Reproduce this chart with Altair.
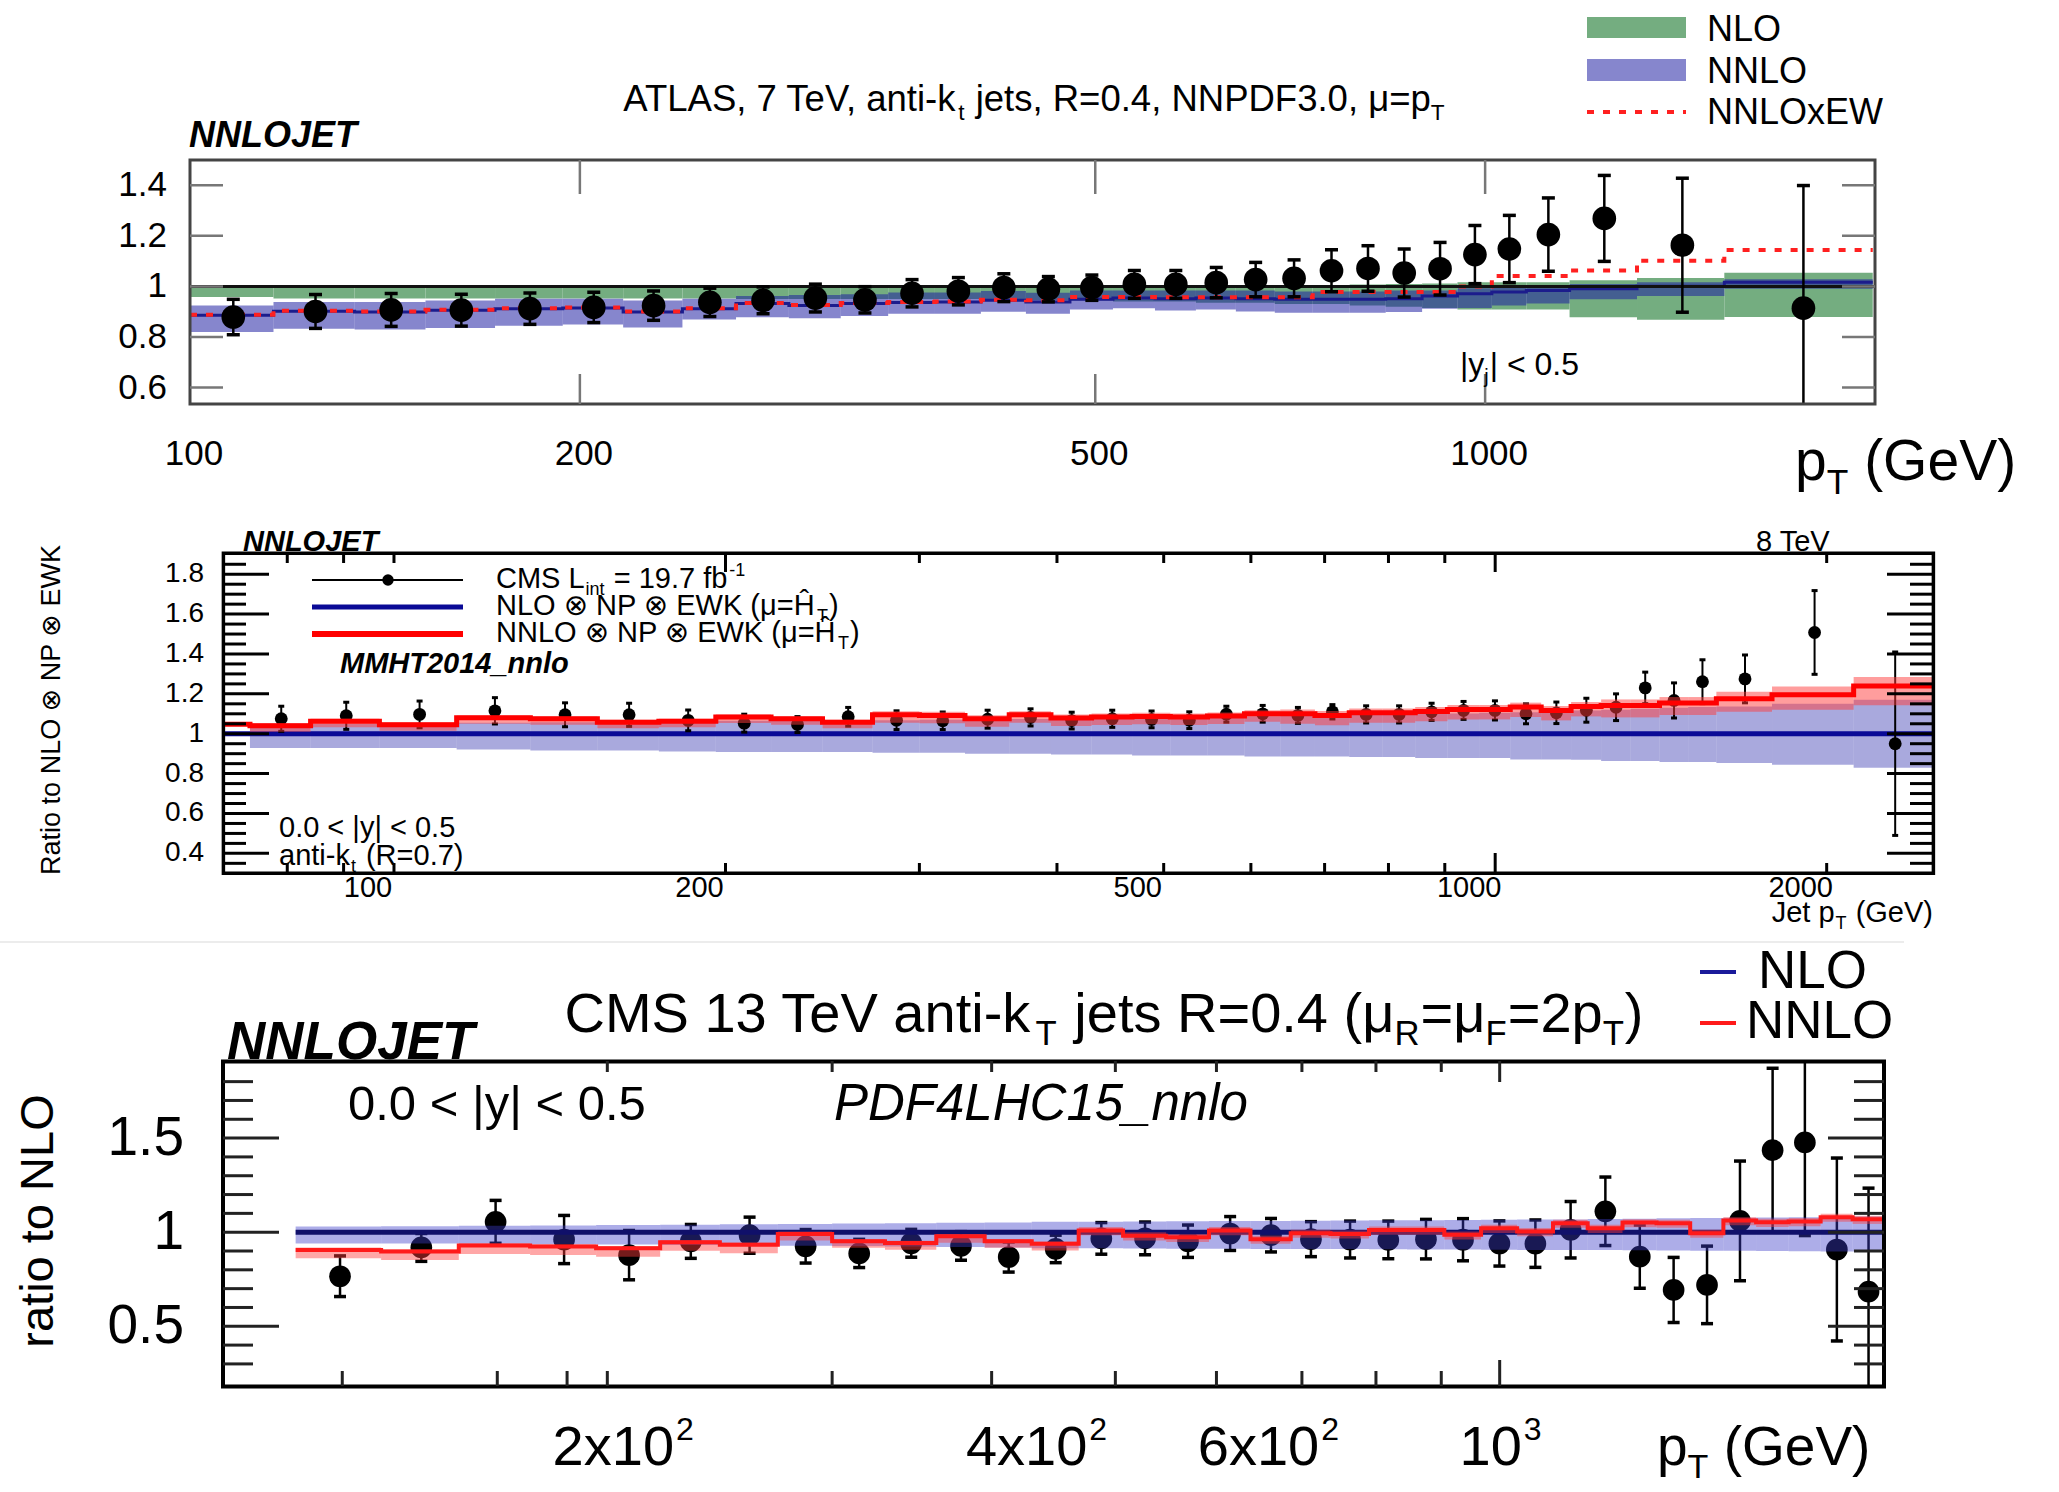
import altair as alt
import pandas as pd

# ======================= DATA =======================
# ---- Panel 1 : ATLAS 7 TeV ----
P1_EDGES = [100, 116, 134, 152, 172, 194, 216, 240, 264, 290, 318, 346, 376, 408, 442, 478, 516, 556,
            598, 642, 688, 736, 786, 838, 894, 952, 1012, 1076, 1162, 1310, 1530, 1992]
P1_PT = [108, 125, 143, 162, 183, 205, 228, 252, 277, 304, 332, 361, 392, 425, 460, 497, 536, 577, 620,
         665, 712, 761, 812, 866, 923, 982, 1044, 1119, 1236, 1420, 1761]
P1_DATA = [0.879, 0.901, 0.907, 0.906, 0.912, 0.917, 0.924, 0.937, 0.945, 0.954, 0.947, 0.973, 0.981,
           0.995, 0.989, 0.995, 1.008, 1.008, 1.015, 1.027, 1.032, 1.062, 1.071, 1.053, 1.070, 1.126,
           1.148, 1.205, 1.269, 1.163, 0.914]
P1_ERR = [0.070, 0.067, 0.065, 0.063, 0.062, 0.060, 0.058, 0.056, 0.053, 0.055, 0.052, 0.054, 0.054,
          0.055, 0.050, 0.050, 0.055, 0.055, 0.060, 0.068, 0.073, 0.083, 0.090, 0.095, 0.104, 0.115,
          0.133, 0.145, 0.170, 0.265, 0.485]
P1_NLO_LO = [0.958, 0.952, 0.952, 0.952, 0.952, 0.952, 0.952, 0.952, 0.950, 0.950, 0.950, 0.950, 0.950,
             0.950, 0.945, 0.945, 0.940, 0.940, 0.935, 0.935, 0.930, 0.930, 0.925, 0.920, 0.915, 0.909,
             0.909, 0.909, 0.878, 0.868, 0.879]
P1_NLO_HI = [1.000, 1.000, 1.000, 1.000, 1.000, 1.000, 1.000, 1.000, 1.000, 1.000, 1.000, 1.000, 1.000,
             1.000, 1.000, 1.000, 1.000, 1.000, 1.000, 1.002, 1.004, 1.006, 1.008, 1.010, 1.012, 1.017,
             1.017, 1.017, 1.024, 1.033, 1.054]
P1_NNLO = [0.886, 0.902, 0.899, 0.906, 0.912, 0.915, 0.899, 0.912, 0.932, 0.925, 0.932, 0.936, 0.938,
           0.945, 0.938, 0.949, 0.954, 0.951, 0.954, 0.951, 0.949, 0.949, 0.949, 0.951, 0.962, 0.971,
           0.978, 0.984, 0.991, 1.001, 1.017]
P1_NNLO_LO = [0.820, 0.833, 0.830, 0.836, 0.844, 0.849, 0.838, 0.869, 0.878, 0.874, 0.883, 0.892, 0.892,
              0.900, 0.892, 0.909, 0.914, 0.905, 0.909, 0.901, 0.896, 0.896, 0.896, 0.899, 0.912, 0.915,
              0.925, 0.932, 0.949, 0.962, 0.991]
P1_NNLO_HI = [0.925, 0.938, 0.938, 0.944, 0.951, 0.951, 0.944, 0.951, 0.962, 0.966, 0.969, 0.976, 0.976,
              0.982, 0.975, 0.984, 0.984, 0.984, 0.984, 0.984, 0.980, 0.980, 0.980, 0.984, 0.984, 0.993,
              0.997, 1.001, 1.010, 1.017, 1.028]
P1_EW = [0.888, 0.904, 0.901, 0.908, 0.914, 0.917, 0.901, 0.914, 0.934, 0.927, 0.934, 0.938, 0.940,
         0.947, 0.945, 0.958, 0.958, 0.957, 0.957, 0.957, 0.957, 0.978, 0.978, 0.978, 0.978, 1.000,
         1.041, 1.041, 1.063, 1.102, 1.144]
P1_YTICKS = [0.6, 0.8, 1.0, 1.2, 1.4]
P1_YLABELS = ["0.6", "0.8", "1", "1.2", "1.4"]
P1_XTICKS = [200, 500, 1000]
P1_XLABEL_VALUES = [100, 200, 500, 1000]
P1_XLABELS = ["100", "200", "500", "1000"]

# ---- Panel 2 : CMS 8 TeV ----
P2_EDGES = [74, 84, 97, 114, 133, 153, 174, 196, 220, 245, 272, 300, 330, 362, 395, 430, 468, 507, 548,
            592, 638, 686, 737, 790, 846, 905, 967, 1032, 1101, 1172, 1248, 1327, 1410, 1497, 1588,
            1784, 2116, 2500]
P2_PT = [79, 90.5, 105.5, 123.5, 143, 163.5, 185, 208, 232.5, 258.5, 286, 315, 346, 378.5, 412.5, 449,
         487.5, 527.5, 570, 615, 662, 711.5, 763.5, 818, 875.5, 936, 999.5, 1066.5, 1136.5, 1210,
         1287.5, 1368.5, 1453.5, 1542.5, 1686, 1950, 2308]
P2_DATA = [1.075, 1.090, 1.097, 1.115, 1.095, 1.095, 1.067, 1.053, 1.046, 1.085, 1.068, 1.065, 1.073,
           1.082, 1.066, 1.075, 1.072, 1.068, 1.098, 1.100, 1.092, 1.110, 1.097, 1.097, 1.110, 1.117,
           1.117, 1.100, 1.105, 1.118, 1.133, 1.230, 1.167, 1.261, 1.275, 1.508, 0.950]
P2_ERR = [0.063, 0.068, 0.067, 0.066, 0.060, 0.058, 0.052, 0.045, 0.040, 0.047, 0.047, 0.044, 0.045,
          0.043, 0.042, 0.043, 0.042, 0.042, 0.040, 0.042, 0.040, 0.036, 0.043, 0.043, 0.043, 0.045,
          0.048, 0.050, 0.054, 0.060, 0.067, 0.079, 0.088, 0.110, 0.120, 0.210, 0.460]
P2_NLO_LO = [0.928, 0.928, 0.928, 0.921, 0.916, 0.916, 0.911, 0.908, 0.908, 0.908, 0.905, 0.905, 0.900,
             0.900, 0.896, 0.896, 0.891, 0.891, 0.891, 0.886, 0.886, 0.886, 0.883, 0.883, 0.878, 0.878,
             0.878, 0.871, 0.871, 0.869, 0.863, 0.863, 0.858, 0.858, 0.853, 0.845, 0.830]
P2_NLO_HI = [1.050, 1.050, 1.050, 1.055, 1.058, 1.058, 1.062, 1.065, 1.065, 1.066, 1.068, 1.070, 1.072,
             1.074, 1.076, 1.078, 1.080, 1.082, 1.085, 1.088, 1.090, 1.092, 1.095, 1.098, 1.100, 1.102,
             1.105, 1.108, 1.112, 1.116, 1.120, 1.125, 1.130, 1.134, 1.137, 1.150, 1.170]
P2_NNLO_FIRST = 1.047   # partial bin below 74 GeV, visible at the left frame
P2_NNLO = [1.040, 1.063, 1.045, 1.080, 1.075, 1.058, 1.063, 1.084, 1.075, 1.058, 1.095, 1.092, 1.075,
           1.095, 1.079, 1.084, 1.087, 1.084, 1.089, 1.100, 1.100, 1.092, 1.105, 1.105, 1.112, 1.122,
           1.122, 1.134, 1.117, 1.137, 1.142, 1.142, 1.154, 1.154, 1.175, 1.195, 1.239]
P2_NNLO_LO = [1.010, 1.033, 1.015, 1.050, 1.045, 1.028, 1.033, 1.054, 1.045, 1.028, 1.055, 1.052, 1.035,
              1.055, 1.039, 1.044, 1.047, 1.044, 1.049, 1.060, 1.050, 1.042, 1.055, 1.055, 1.062, 1.072,
              1.072, 1.084, 1.067, 1.087, 1.082, 1.082, 1.094, 1.094, 1.110, 1.120, 1.143]
P2_NNLO_HI = [1.052, 1.075, 1.057, 1.092, 1.087, 1.070, 1.075, 1.096, 1.087, 1.070, 1.113, 1.110, 1.093,
              1.113, 1.097, 1.102, 1.105, 1.102, 1.107, 1.118, 1.122, 1.114, 1.127, 1.127, 1.134, 1.144,
              1.144, 1.156, 1.139, 1.159, 1.172, 1.172, 1.184, 1.184, 1.210, 1.237, 1.284]
P2_YMAJOR = [0.4, 0.6, 0.8, 1.0, 1.2, 1.4, 1.6, 1.8]
P2_YLABELS = ["0.4", "0.6", "0.8", "1", "1.2", "1.4", "1.6", "1.8"]
P2_YMINOR = [0.35, 0.45, 0.5, 0.55, 0.65, 0.7, 0.75, 0.85, 0.9, 0.95, 1.05, 1.1, 1.15, 1.25, 1.3,
             1.35, 1.45, 1.5, 1.55, 1.65, 1.7, 1.75, 1.85]
P2_XSHORT_TOP = [80, 90, 100, 300, 400, 500, 600, 700, 800, 900, 2000]
P2_XLONG_TOP = [200, 1000]
P2_XSHORT_BOT = [80, 90, 100, 200, 300, 400, 500, 600, 700, 800, 900, 2000]
P2_XLONG_BOT = [1000]
P2_XLABEL_VALUES = [100, 200, 500, 1000, 2000]
P2_XLABELS = ["100", "200", "500", "1000", "2000"]

# ---- Panel 3 : CMS 13 TeV ----
P3_EDGES = [114, 133, 153, 174, 196, 220, 245, 272, 300, 330, 362, 395, 430, 468, 507, 548, 592, 638,
            686, 737, 790, 846, 905, 967, 1032, 1101, 1172, 1248, 1327, 1410, 1497, 1588, 1684, 1784,
            1890, 2000]
P3_PT = [123.5, 143, 163.5, 185, 208, 232.5, 258.5, 286, 315, 346, 378.5, 412.5, 449, 487.5, 527.5, 570,
         615, 662, 711.5, 763.5, 818, 875.5, 936, 999.5, 1066.5, 1136.5, 1210, 1287.5, 1368.5, 1453.5,
         1542.5, 1636, 1734, 1837, 1945]
P3_DATA = [0.766, 0.919, 1.055, 0.961, 0.878, 0.951, 0.984, 0.925, 0.887, 0.941, 0.927, 0.868, 0.911,
           0.967, 0.967, 0.952, 0.993, 0.984, 0.963, 0.961, 0.959, 0.963, 0.960, 0.940, 0.939, 1.013,
           1.111, 0.870, 0.693, 0.720, 1.060, 1.436, 1.477, 0.908, 0.684]
P3_ERR = [0.108, 0.074, 0.114, 0.128, 0.131, 0.090, 0.096, 0.089, 0.075, 0.074, 0.076, 0.080, 0.073,
          0.084, 0.087, 0.086, 0.090, 0.089, 0.093, 0.098, 0.100, 0.105, 0.112, 0.120, 0.126, 0.150,
          0.182, 0.168, 0.173, 0.206, 0.318, 0.435, 0.495, 0.486, 0.550]
P3_NLO_LO = [0.940, 0.940, 0.938, 0.936, 0.934, 0.932, 0.930, 0.928, 0.926, 0.924, 0.921, 0.918, 0.915,
             0.914, 0.913, 0.912, 0.912, 0.911, 0.910, 0.910, 0.909, 0.908, 0.908, 0.907, 0.906, 0.906,
             0.905, 0.904, 0.903, 0.902, 0.901, 0.900, 0.899, 0.898, 0.897]
P3_NLO_HI = [1.030, 1.032, 1.034, 1.036, 1.038, 1.040, 1.042, 1.044, 1.046, 1.048, 1.050, 1.052, 1.055,
             1.056, 1.057, 1.058, 1.059, 1.060, 1.061, 1.062, 1.063, 1.064, 1.065, 1.066, 1.067, 1.068,
             1.070, 1.072, 1.074, 1.075, 1.077, 1.078, 1.080, 1.082, 1.083]
P3_NNLO = [0.906, 0.897, 0.929, 0.924, 0.915, 0.947, 0.933, 0.991, 0.952, 0.942, 0.979, 0.952, 0.938,
           1.009, 0.981, 0.973, 1.009, 0.963, 0.995, 0.991, 1.012, 1.012, 0.986, 1.021, 1.004, 1.048,
           1.021, 1.051, 1.048, 0.995, 1.062, 1.053, 1.057, 1.080, 1.069]
P3_NNLO_LO = [0.861, 0.852, 0.884, 0.879, 0.870, 0.902, 0.888, 0.956, 0.917, 0.907, 0.944, 0.917, 0.903,
              0.984, 0.956, 0.948, 0.984, 0.938, 0.970, 0.966, 0.987, 0.987, 0.961, 0.996, 0.979, 1.023,
              0.996, 1.026, 1.023, 0.970, 1.037, 1.028, 1.032, 1.055, 1.044]
P3_NNLO_HI = [0.918, 0.909, 0.941, 0.936, 0.927, 0.959, 0.945, 1.003, 0.964, 0.954, 0.991, 0.964, 0.950,
              1.027, 0.999, 0.991, 1.027, 0.981, 1.013, 1.009, 1.030, 1.030, 1.004, 1.039, 1.022, 1.066,
              1.039, 1.069, 1.066, 1.013, 1.080, 1.071, 1.075, 1.098, 1.087]
P3_YMAJOR = [0.5, 1.0, 1.5]
P3_YLABELS = ["0.5", "1", "1.5"]
P3_YMINOR = [0.3, 0.4, 0.6, 0.7, 0.8, 0.9, 1.1, 1.2, 1.3, 1.4, 1.6, 1.7, 1.8]
P3_XSHORT_TOP = [200, 300, 400, 500, 600, 700, 800, 900]
P3_XSHORT_BOT = [124, 164, 186, 200, 300, 400, 500, 600, 700, 800, 900]
P3_XLONG = [1000]
P3_XLABEL_VALUES = [200, 400, 600, 1000]
P3_XLABEL_BASE = ["2x10", "4x10", "6x10", "10"]
P3_XLABEL_EXP = ["2", "2", "2", "3"]

# ======================= GEOMETRY / STYLE =======================
FONT = "Liberation Sans, Arial, Helvetica, DejaVu Sans, sans-serif"
G1 = dict(xd=[100, 2000], xr=[190, 1875], yd=[0.535, 1.5], yr=[404, 160])
G2 = dict(xd=[70, 2500], xr=[223.4, 1933.4], yd=[0.3, 1.905], yr=[873.3, 553.3])
G3 = dict(xd=[100, 2000], xr=[223, 1884], yd=[0.18, 1.907], yr=[1386.5, 1061.5])
DUMMY = pd.DataFrame({"d": [0]})

CW = {" ": .278, "!": .278, "(": .333, ")": .333, ",": .278, "-": .333, ".": .278, "/": .278,
      "=": .584, "<": .584, ">": .584, "|": .26, "_": .556, "μ": .576, "Ĥ": .722, "⊗": .838,
      "A": .667, "B": .667, "C": .722, "D": .722, "E": .667, "F": .611, "G": .778, "H": .722, "I": .278,
      "J": .5, "K": .667, "L": .556, "M": .833, "N": .722, "O": .778, "P": .667, "Q": .778, "R": .722,
      "S": .667, "T": .611, "U": .722, "V": .667, "W": .944, "X": .667, "Y": .667, "Z": .611,
      "a": .556, "b": .556, "c": .5, "d": .556, "e": .556, "f": .278, "g": .556, "h": .556, "i": .222,
      "j": .222, "k": .5, "l": .222, "m": .833, "n": .556, "o": .556, "p": .556, "q": .556, "r": .333,
      "s": .5, "t": .278, "u": .556, "v": .5, "w": .722, "x": .5, "y": .5, "z": .5}


def tw(s, size):
    return sum(CW.get(c, .556) for c in s) * size


def scales(g):
    return (alt.Scale(type="log", domain=g["xd"], range=g["xr"], clamp=True, nice=False),
            alt.Scale(type="linear", domain=g["yd"], range=g["yr"], clamp=True, nice=False, zero=False))


def T(s, x, y, size, align="left", baseline="alphabetic", weight="normal", style="normal",
      angle=0, color="black"):
    return alt.Chart(DUMMY).mark_text(align=align, baseline=baseline, fontSize=size, fontWeight=weight,
                                      fontStyle=style, angle=angle, color=color, font=FONT).encode(
        x=alt.value(x), y=alt.value(y), text=alt.value(s))


def rich(pieces, x, y, size, align="left", sub=0.62, **style):
    """pieces: (text, kind[, extra_px]) with kind 'n', 'sub' or 'sup'."""
    def pw(p):
        t, k = p[0], p[1]
        return tw(t, size if k == "n" else size * sub) + (p[2] if len(p) > 2 else 0)
    total = sum(pw(p) for p in pieces)
    if align == "right":
        x = x - total
    elif align == "center":
        x = x - total / 2
    out = []
    for p in pieces:
        t, k = p[0], p[1]
        s = size if k == "n" else size * sub
        yy = y if k == "n" else (y + 0.24 * size if k == "sub" else y - 0.42 * size)
        lead = len(t) - len(t.lstrip(" "))
        xx = x + tw(" " * lead, s)
        if t.strip():
            out.append(T(t.strip(), xx, yy, s, **style))
        x += pw(p)
    return out


def band(edges, lo, hi, g, color, opacity):
    xs, ys = scales(g)
    df = pd.DataFrame({"x0": edges[:-1], "x1": edges[1:], "lo": lo, "hi": hi})
    return alt.Chart(df).mark_rect(color=color, opacity=opacity).encode(
        x=alt.X("x0:Q", scale=xs, axis=None), x2="x1:Q",
        y=alt.Y("lo:Q", scale=ys, axis=None), y2="hi:Q")


def step(edges, vals, g, color, width, dash=None):
    xs, ys = scales(g)
    df = pd.DataFrame({"x": list(edges), "y": list(vals) + [vals[-1]]})
    kw = dict(interpolate="step-after", color=color, strokeWidth=width)
    if dash:
        kw["strokeDash"] = dash
    return alt.Chart(df).mark_line(**kw).encode(
        x=alt.X("x:Q", scale=xs, axis=None), y=alt.Y("y:Q", scale=ys, axis=None))


def hline(x0, x1, v, g, color, width):
    xs, ys = scales(g)
    df = pd.DataFrame({"x0": [x0], "x1": [x1], "v": [v]})
    return alt.Chart(df).mark_rule(color=color, strokeWidth=width).encode(
        x=alt.X("x0:Q", scale=xs, axis=None), x2="x1:Q", y=alt.Y("v:Q", scale=ys, axis=None))


def points(pt, val, err, g, size, capw, lw):
    xs, ys = scales(g)
    df = pd.DataFrame({"x": pt, "v": val,
                       "lo": [a - b for a, b in zip(val, err)], "hi": [a + b for a, b in zip(val, err)]})
    X = alt.X("x:Q", scale=xs, axis=None)
    out = [alt.Chart(df).mark_rule(color="black", strokeWidth=lw).encode(
        x=X, y=alt.Y("lo:Q", scale=ys, axis=None), y2="hi:Q")]
    lo_df = df[df["lo"] >= g["yd"][0]]
    hi_df = df[df["hi"] <= g["yd"][1]]
    out.append(alt.Chart(lo_df).mark_tick(orient="horizontal", size=capw, thickness=lw + 1,
                                          color="black", opacity=1).encode(
        x=X, y=alt.Y("lo:Q", scale=ys, axis=None)))
    out.append(alt.Chart(hi_df).mark_tick(orient="horizontal", size=capw, thickness=lw + 1,
                                          color="black", opacity=1).encode(
        x=X, y=alt.Y("hi:Q", scale=ys, axis=None)))
    out.append(alt.Chart(df).mark_point(filled=True, shape="circle", size=size, color="black",
                                        opacity=1).encode(x=X, y=alt.Y("v:Q", scale=ys, axis=None)))
    return out


def yticks(vals, g, x0, x1, color, width):
    xs, ys = scales(g)
    return alt.Chart(pd.DataFrame({"v": vals})).mark_rule(color=color, strokeWidth=width).encode(
        y=alt.Y("v:Q", scale=ys, axis=None), x=alt.value(x0), x2=alt.value(x1))


def xticks(vals, g, y0, y1, color, width):
    xs, ys = scales(g)
    return alt.Chart(pd.DataFrame({"v": vals})).mark_rule(color=color, strokeWidth=width).encode(
        x=alt.X("v:Q", scale=xs, axis=None), y=alt.value(y0), y2=alt.value(y1))


def ylabels(vals, labs, g, xr, size):
    xs, ys = scales(g)
    return alt.Chart(pd.DataFrame({"v": vals, "t": labs})).mark_text(
        align="right", baseline="middle", fontSize=size, font=FONT, color="black").encode(
        y=alt.Y("v:Q", scale=ys, axis=None), x=alt.value(xr), text="t:N")


def xlabels(vals, labs, g, y, size, dx=0, align="center", baseline="alphabetic"):
    xs, ys = scales(g)
    return alt.Chart(pd.DataFrame({"v": vals, "t": labs})).mark_text(
        align=align, baseline=baseline, fontSize=size, font=FONT, color="black", dx=dx).encode(
        x=alt.X("v:Q", scale=xs, axis=None), y=alt.value(y), text="t:N")


def frame(g, color, width):
    xs, ys = scales(g)
    df = pd.DataFrame({"x0": [g["xd"][0]], "x1": [g["xd"][1]], "y0": [g["yd"][0]], "y1": [g["yd"][1]]})
    return alt.Chart(df).mark_rect(fillOpacity=0, stroke=color, strokeWidth=width).encode(
        x=alt.X("x0:Q", scale=xs, axis=None), x2="x1:Q",
        y=alt.Y("y0:Q", scale=ys, axis=None), y2="y1:Q")


def box(x0, x1, y0, y1, color, opacity=1.0):
    return alt.Chart(DUMMY).mark_rect(color=color, opacity=opacity).encode(
        x=alt.value(x0), x2=alt.value(x1), y=alt.value(y0), y2=alt.value(y1))


def seg(x0, x1, y, color, width, dash=None):
    kw = dict(color=color, strokeWidth=width)
    if dash:
        kw["strokeDash"] = dash
    return alt.Chart(DUMMY).mark_rule(**kw).encode(x=alt.value(x0), x2=alt.value(x1), y=alt.value(y))


L = []

# ======================= PANEL 1 =======================
GREEN, PURPLE1 = "#74ad80", "#1a1aa0"
L.append(band(P1_EDGES, P1_NLO_LO, P1_NLO_HI, G1, GREEN, 1.0))
L.append(band(P1_EDGES, P1_NNLO_LO, P1_NNLO_HI, G1, PURPLE1, 0.53))
L.append(step(P1_EDGES, P1_NNLO, G1, "#1c1c8c", 3))
L.append(step(P1_EDGES, P1_EW, G1, "#ff2020", 4, dash=[7, 9]))
L.append(hline(100, 2000, 1.0, G1, "#111111", 3))
L += points(P1_PT, P1_DATA, P1_ERR, G1, 560, 13, 2.5)
L.append(frame(G1, "#444444", 3))
L.append(yticks(P1_YTICKS, G1, 190, 223, "#777777", 2.5))
L.append(yticks(P1_YTICKS, G1, 1842, 1875, "#777777", 2.5))
L.append(xticks(P1_XTICKS, G1, 160, 194, "#777777", 2.5))
L.append(xticks(P1_XTICKS, G1, 374, 404, "#777777", 2.5))
L.append(ylabels(P1_YTICKS, P1_YLABELS, G1, 167, 35))
L.append(xlabels(P1_XLABEL_VALUES, P1_XLABELS, G1, 465, 35, dx=4))
L += rich([("ATLAS, 7 TeV, anti-k", "n", -8), ("t", "sub", 1), (" jets, R=0.4, NNPDF3.0, μ=p", "n"),
           ("T", "sub")], 1034, 111, 36.5, align="center")
L.append(T("NNLOJET", 189, 147, 36, weight="bold", style="italic"))
L.append(box(1587, 1686, 17, 38, GREEN))
L.append(box(1587, 1686, 59, 81, PURPLE1, 0.53))
L.append(seg(1587, 1686, 112, "#ff2020", 4, dash=[7, 9]))
L.append(T("NLO", 1707, 30, 36, baseline="middle"))
L.append(T("NNLO", 1707, 72, 36, baseline="middle"))
L.append(T("NNLOxEW", 1707, 113, 36, baseline="middle"))
L += rich([("|y", "n"), ("j", "sub", 1), ("| < 0.5", "n")], 1460, 375, 32)
L += rich([("p", "n"), ("T", "sub"), (" (GeV)", "n")], 1795, 480, 57)

# ======================= PANEL 2 =======================
L.append(band(P2_EDGES, P2_NLO_LO, P2_NLO_HI, G2, "#2828aa", 0.4))
L.append(hline(70, 2500, 1.0, G2, "#0a0a96", 5))
L += points(P2_PT, P2_DATA, P2_ERR, G2, 165, 6, 2)
L.append(band(P2_EDGES, P2_NNLO_LO, P2_NNLO_HI, G2, "#ff3c3c", 0.5))
L.append(step([70] + P2_EDGES, [P2_NNLO_FIRST] + P2_NNLO, G2, "#ff0000", 5))
L.append(frame(G2, "black", 3.5))
L.append(yticks(P2_YMAJOR, G2, 223, 269, "black", 3))
L.append(yticks(P2_YMINOR, G2, 223, 246, "black", 3))
L.append(yticks(P2_YMAJOR, G2, 1887, 1933, "black", 3))
L.append(yticks(P2_YMINOR, G2, 1910, 1933, "black", 3))
L.append(xticks(P2_XSHORT_TOP, G2, 553, 563, "black", 3))
L.append(xticks(P2_XLONG_TOP, G2, 553, 572, "black", 3))
L.append(xticks(P2_XSHORT_BOT, G2, 863, 873, "black", 3))
L.append(xticks(P2_XLONG_BOT, G2, 853, 873, "black", 3))
L.append(ylabels(P2_YMAJOR, P2_YLABELS, G2, 204, 28))
L.append(xlabels(P2_XLABEL_VALUES, P2_XLABELS, G2, 897, 29, dx=-26))
L.append(T("NNLOJET", 243, 551, 29, weight="bold", style="italic"))
L.append(T("8 TeV", 1756, 551, 29))
L.append(seg(312, 463, 580, "black", 2))
L.append(alt.Chart(DUMMY).mark_point(filled=True, shape="circle", size=130, color="black", opacity=1)
         .encode(x=alt.value(388), y=alt.value(580)))
L.append(seg(312, 463, 607, "#0a0a96", 5))
L.append(seg(312, 463, 634, "#ff0000", 6))
L += rich([("CMS L", "n", 1), ("int", "sub", 1), (" = 19.7 fb", "n", 2), ("-1", "sup")], 496, 588, 29)
L += rich([("NLO ⊗ NP ⊗ EWK (μ=Ĥ", "n", 2), ("T", "sub", 1), (")", "n")], 496, 615, 29)
L += rich([("NNLO ⊗ NP ⊗ EWK (μ=Ĥ", "n", 2), ("T", "sub", 1), (")", "n")], 496, 642, 29)
L.append(T("MMHT2014_nnlo", 340, 673, 29, weight="bold", style="italic"))
L.append(T("0.0 < |y| < 0.5", 279, 837, 29))
L += rich([("anti-k", "n", 1), ("t", "sub", 2), (" (R=0.7)", "n")], 279, 865, 29)
L += rich([("Jet p", "n", 1), ("T", "sub", 1), (" (GeV)", "n")], 1933, 922, 29, align="right")
L.append(T("Ratio to NLO ⊗ NP ⊗ EWK", 52, 710, 27, align="center", baseline="middle", angle=270))

# separator
L.append(seg(0, 1904, 942, "#ececec", 2))

# ======================= PANEL 3 =======================
L += points(P3_PT, P3_DATA, P3_ERR, G3, 470, 12, 2.5)
L.append(band(P3_EDGES, P3_NLO_LO, P3_NLO_HI, G3, "#3c3cc8", 0.42))
L.append(hline(114, 2000, 1.0, G3, "#10106a", 5))
L.append(band(P3_EDGES, P3_NNLO_LO, P3_NNLO_HI, G3, "#ff3c3c", 0.45))
L.append(step(P3_EDGES, P3_NNLO, G3, "#ff1a1a", 4))
L.append(frame(G3, "black", 4))
L.append(yticks(P3_YMAJOR, G3, 223, 279, "#222222", 3))
L.append(yticks(P3_YMINOR, G3, 223, 253, "#222222", 3))
L.append(yticks(P3_YMAJOR, G3, 1828, 1884, "#222222", 3))
L.append(yticks(P3_YMINOR, G3, 1854, 1884, "#222222", 3))
L.append(xticks(P3_XSHORT_TOP, G3, 1061, 1072, "#222222", 3))
L.append(xticks(P3_XLONG, G3, 1061, 1082, "#222222", 3))
L.append(xticks(P3_XSHORT_BOT, G3, 1371, 1386, "#222222", 3))
L.append(xticks(P3_XLONG, G3, 1360, 1386, "#222222", 3))
L.append(ylabels(P3_YMAJOR, P3_YLABELS, G3, 184, 55))
P3_LABEL_DX = [6, 35, 42, -9]
for v, b, e, dx in zip(P3_XLABEL_VALUES, P3_XLABEL_BASE, P3_XLABEL_EXP, P3_LABEL_DX):
    L.append(xlabels([v], [b], G3, 1465, 56, dx=dx))
    L.append(xlabels([v], [e], G3, 1440, 32, dx=dx + tw(b, 56) / 2 + 2, align="left"))
L += rich([("CMS 13 TeV anti-k", "n", -2), ("T", "sub", 2), (" jets R=0.4 (μ", "n"), ("R", "sub", 1),
           ("=μ", "n"), ("F", "sub", 1), ("=2p", "n"), ("T", "sub", 1), (")", "n")], 1104, 1032, 56,
          align="center")
L.append(T("NNLOJET", 227, 1059, 53, weight="bold", style="italic"))
L.append(seg(1700, 1736, 972, "#1a1a9a", 4))
L.append(seg(1700, 1736, 1023, "#ff1a1a", 4))
L.append(T("NLO", 1758, 972, 53, baseline="middle"))
L.append(T("NNLO", 1746, 1022, 53, baseline="middle"))
L.append(T("0.0 < |y| < 0.5", 348, 1120, 49))
L.append(T("PDF4LHC15_nnlo", 834, 1120, 51, style="italic"))
L.append(T("ratio to NLO", 39, 1221, 47, align="center", baseline="middle", angle=270))
L += rich([("p", "n"), ("T", "sub"), (" (GeV)", "n")], 1657, 1465, 55)

chart = alt.layer(*L).resolve_scale(x="independent", y="independent").properties(
    width=2059, height=1492, padding=0, autosize=alt.AutoSizeParams(type="none")
).configure_view(stroke=None)

chart.save("out.html", embed_options={"renderer": "svg", "actions": False})
